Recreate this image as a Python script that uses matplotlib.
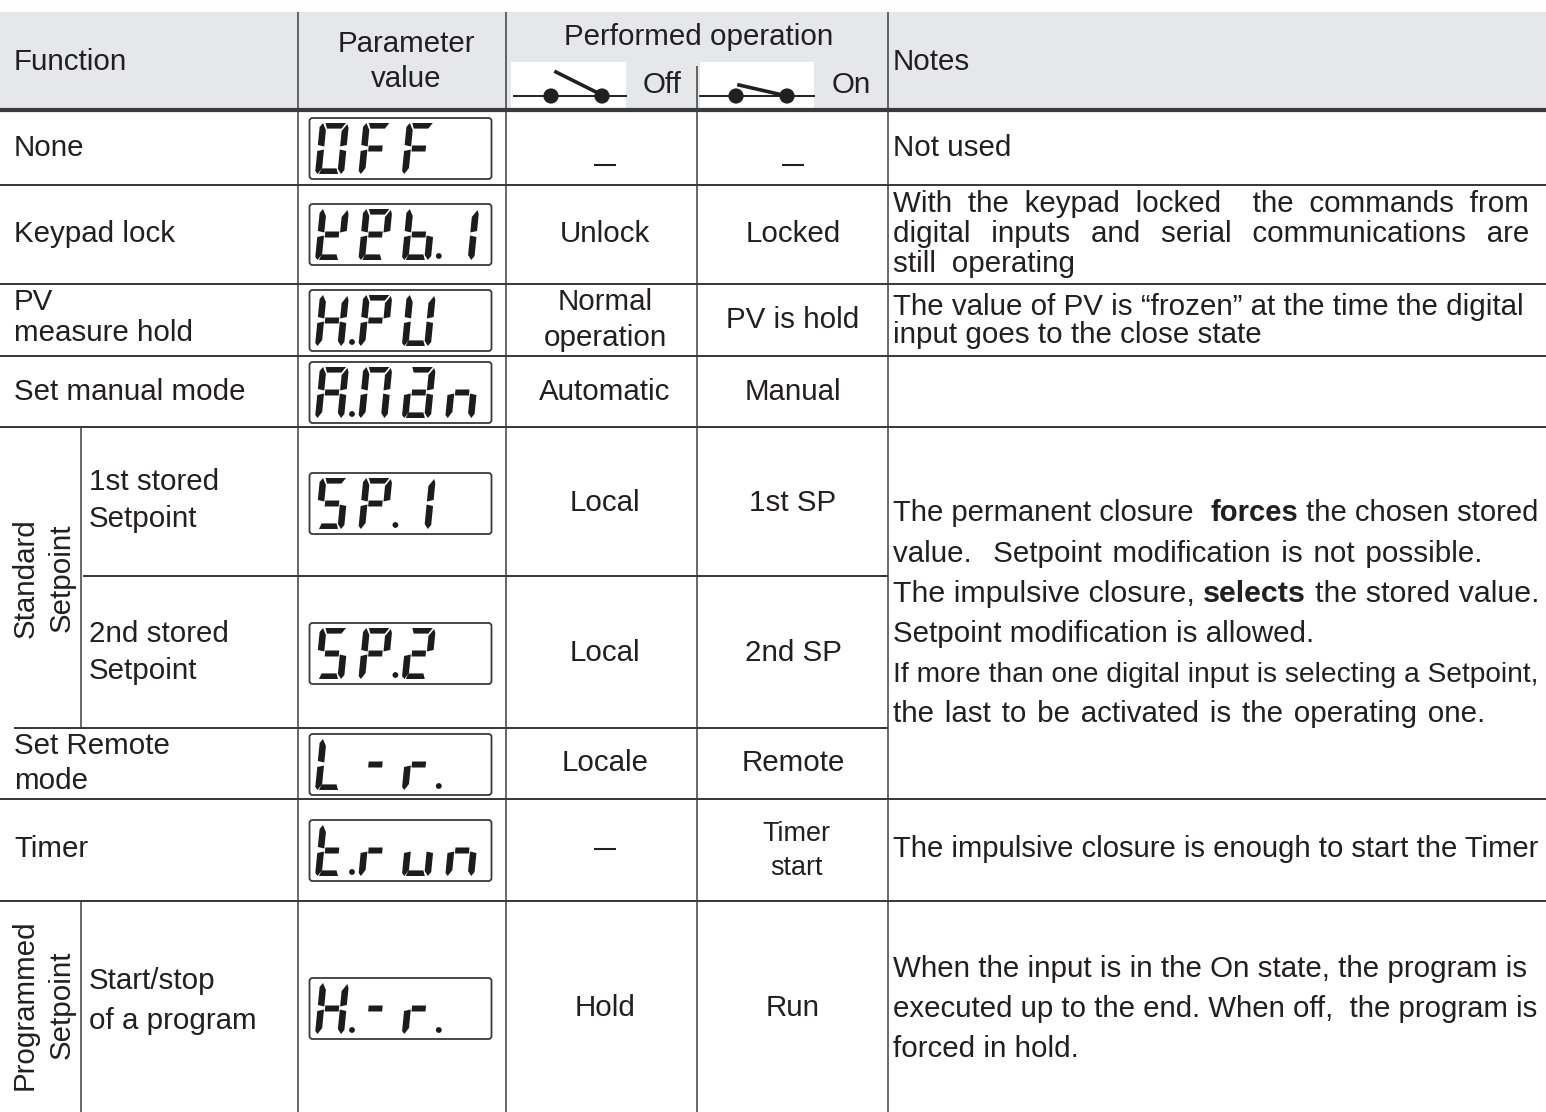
import matplotlib
matplotlib.use("Agg")
import matplotlib.pyplot as plt
from matplotlib.patches import Polygon, Rectangle, Circle, FancyBboxPatch
from matplotlib.font_manager import FontProperties, findfont, get_font
from matplotlib.textpath import TextPath

W, H = 1546, 1112
INK = "#231f20"
RULE = "#3a3a3c"
BAND = "#e6e7e8"
FONT = "Liberation Sans"
PX = 29.5

# ---- table contents ----
header_function = "Function"
header_param = ["Parameter", "value"]
header_op = "Performed operation"
header_off = "Off"
header_on = "On"
header_notes = "Notes"

functions = [("None", 146), ("Keypad lock", 232), ("PV", 300), ("measure hold", 331),
             ("Set manual mode", 390), ("Set Remote", 744), ("mode", 779), ("Timer", 847)]
sub_functions = [("1st stored", 480), ("Setpoint", 517), ("2nd stored", 632), ("Setpoint", 669),
                 ("Start/stop", 979), ("of a program", 1019)]
rotated = [("Standard", 26, 578), ("Setpoint", 62, 578), ("Programmed", 25, 1005), ("Setpoint", 62, 1005)]

off_col = [("Unlock", 232), ("Normal", 300), ("operation", 336), ("Automatic", 390), ("Local", 501),
           ("Local", 651), ("Locale", 761), ("Hold", 1006)]
on_col = [("Locked", 232), ("PV is hold", 318), ("Manual", 390), ("1st SP", 501), ("2nd SP", 651),
          ("Remote", 761), ("Run", 1006)]
dashes = [(605, 165), (793, 165), (605, 849)]
timer_start = [("Timer", 831), ("start", 865)]

notes_plain = [("Not used", 146, None), ("With the keypad locked  the commands from", 202, 1539),
               ("digital inputs and serial communications are", 232, 1539), ("still operating", 262, 1075),
               ("The value of PV is “frozen” at the time the digital", 305, 1539),
               ("input goes to the close state", 333, 1270),
               ("value.  Setpoint modification is not possible.", 552, 1491),
               ("Setpoint modification is allowed.", 632, 1320),
               ("If more than one digital input is selecting a Setpoint,", 672, 1539),
               ("the last to be activated is the operating one.", 712, 1489),
               ("The impulsive closure is enough to start the Timer", 847, 1539),
               ("When the input is in the On state, the program is", 967, 1539),
               ("executed up to the end. When off,  the program is", 1007, 1539),
               ("forced in hold.", 1047, None)]
notes_bold = [([("The permanent closure  ", False), ("forces", True), (" the chosen stored", False)], 511, 1539),
              ([("The impulsive closure, ", False), ("selects", True), (" the stored value.", False)], 592, 1539)]

# display rows: top of box, list of (segments, decimal point) for four digits
displays = [
    (118, [("abcdef", 0), ("aefg", 0), ("aefg", 0), ("", 0)]),
    (204, [("bdefg", 0), ("abdefg", 0), ("cdefg", 1), ("bc", 0)]),
    (290, [("bcefg", 1), ("abefg", 0), ("bcdef", 0), ("", 0)]),
    (362, [("abcefg", 1), ("abcef", 0), ("abcdeg", 0), ("ceg", 0)]),
    (473, [("acdfg", 0), ("abefg", 1), ("bc", 0), ("", 0)]),
    (623, [("acdfg", 0), ("abefg", 1), ("abdeg", 0), ("", 0)]),
    (734, [("def", 0), ("g", 0), ("eg", 1), ("", 0)]),
    (820, [("defg", 1), ("eg", 0), ("cde", 0), ("ceg", 0)]),
    (978, [("bcefg", 1), ("g", 0), ("eg", 1), ("", 0)]),
]

# ---- rules: (y, x0, x1, width px) ----
h_rules = [(110, 0, W, 4.2), (185, 0, W, 2), (284, 0, W, 2), (356, 0, W, 2), (426.5, 0, W, 2),
           (575.5, 83, 888, 2), (727.5, 14, 888, 2), (799, 0, W, 2), (900.5, 0, W, 2)]
v_rules = [(298, 12, H), (505.5, 12, H), (696.5, 66, H), (888, 12, H), (81, 427, 727), (81, 901, H)]

fig = plt.figure(figsize=(W / 100, H / 100), dpi=100)
ax = fig.add_axes([0, 0, 1, 1])
ax.set_xlim(0, W)
ax.set_ylim(H, 0)
ax.axis("off")
renderer = fig.canvas.get_renderer()


def fp(bold=False, px=PX):
    return FontProperties(family=FONT, weight="bold" if bold else "normal", size=px * 0.72)


def width(s, bold=False, px=PX):
    a = TextPath((0, 0), "|" + s + "|", prop=fp(bold, 100)).get_extents().width
    b = TextPath((0, 0), "||", prop=fp(bold, 100)).get_extents().width
    return (a - b) * px / 72.0


def drawn_width(s, px=PX):
    t = ax.text(0, 0, s, fontproperties=fp(False, px))
    w = t.get_window_extent(renderer).width
    t.remove()
    return w


def put(x, y, s, ha="left", bold=False, px=PX, **kw):
    ax.text(x, y + 10.3, s, ha=ha, va="baseline", fontproperties=fp(bold, px), color=INK, **kw)


HAIR = "\u200a"
has_hair = get_font(findfont(fp())).get_char_index(0x200A) != 0


def put_fitted(x0, x1, y, s):
    """One line ending at x1: shrink if too long, widen the word gaps if too short."""
    target = x1 - x0
    nat = drawn_width(s)
    if nat >= target or not has_hair:
        put(x0, y, s, px=PX * min(target / nat, 1.0))
        return
    best = s
    for n in range(1, 12):
        cand = s.replace(" ", " " + HAIR * n)
        if drawn_width(cand) > target:
            break
        best = cand
    put(x0, y, best, px=PX)


ax.add_patch(Rectangle((0, 12), W, 97, fc=BAND, ec="none"))
for (bx0, bx1) in [(511, 626), (700, 814)]:
    ax.add_patch(Rectangle((bx0, 62), bx1 - bx0, 46, fc="white", ec="none"))

for y, x0, x1, lw in h_rules:
    ax.plot([x0, x1], [y, y], color=RULE, lw=lw * 0.72, solid_capstyle="butt")
for x, y0, y1 in v_rules:
    ax.plot([x, x], [y0, y1], color=RULE, lw=1.5 * 0.72, solid_capstyle="butt")

# switch symbols
for (lx0, lx1, c0, c1, lever) in [(514, 626, 551, 602, ((556, 72), (602, 95))),
                                  (700, 814, 736, 787, ((739, 85), (787, 96)))]:
    ax.plot([lx0, lx1], [96, 96], color=INK, lw=1.4)
    for c in (c0, c1):
        ax.add_patch(Circle((c, 96), 7.6, fc=INK, ec="none", zorder=3))
    ax.plot([lever[0][0], lever[1][0]], [lever[0][1], lever[1][1]], color=INK, lw=2.6, zorder=3)

# headers
put(14, 60, header_function)
put(406, 42, header_param[0], ha="center")
put(406, 77, header_param[1], ha="center")
put(699, 35, header_op, ha="center")
put(662, 83, header_off, ha="center")
put(851, 83, header_on, ha="center")
put(893, 60, header_notes)

for s, y in functions:
    put(14, y, s)
for s, y in sub_functions:
    put(89, y, s)
for s, x, y in rotated:
    ax.text(x, y, s, rotation=90, ha="center", va="center", fontproperties=fp(), color=INK)
for s, y in off_col:
    put(605, y, s, ha="center")
for s, y in on_col:
    put(793, y, s, ha="center")
for x, y in dashes:
    ax.plot([x - 11, x + 11], [y, y], color=INK, lw=1.5, solid_capstyle="butt")
for s, y in timer_start:
    put(796, y, s, ha="center", px=27)

for s, y, x1 in notes_plain:
    if x1 is None:
        put(893, y, s)
    else:
        put_fitted(893, x1, y, s)
for segs, y, x1 in notes_bold:
    total = sum(width(s, b) for s, b in segs)
    px = PX * (x1 - 893) / total
    x = 893
    for s, b in segs:
        t = s.strip()
        lead = width(s[:len(s) - len(s.lstrip())], b, px) if s != s.lstrip() else 0
        put(x + lead, y, t, bold=b, px=px)
        x += width(s, b, px)

# seven-segment readouts
DW, DH, SL, T = 29.0, 51.0, 5.0, 6.6
PITCH = 43.4
SEG = {
    "a": [(5.5, DH), (DW - 3, DH), (DW - 7, DH - 5.6), (7.5, DH - 5.6)],
    "b": [(DW - 1.5, DH - 1), (DW, DH - 5), (DW, 29), (DW - T, 27.5), (DW - T, DH - 8)],
    "c": [(DW, 23), (DW, 4), (DW - 3, 0), (DW - T, 5), (DW - T, 24.5)],
    "d": [(6, 5.6), (DW - 8, 5.6), (DW - 6, 0), (4, 0)],
    "e": [(0, 23), (T, 24.5), (T, 6), (2.5, 0), (0, 3)],
    "f": [(0, 29), (T, 27.5), (T, DH - 7), (3, DH), (0, DH - 4)],
    "g": [(7.5, 22.5), (DW - 7.5, 22.5), (DW - 7.5, 28.5), (7.5, 28.5)],
}
for top, digits in displays:
    ax.add_patch(FancyBboxPatch((311, top + 1.5), 179, 58, boxstyle="round,pad=1.5,rounding_size=3",
                                fc="none", ec=RULE, lw=1.3))
    base = top + 56
    for i, (segs, dp) in enumerate(digits):
        x0 = 315 + i * PITCH
        for name in segs:
            pts = [(x0 + px_ + SL * py / DH, base - py) for px_, py in SEG[name]]
            ax.add_patch(Polygon(pts, closed=True, fc="#1c1c1e", ec="none"))
        if dp:
            ax.add_patch(Circle((x0 + 37, base - 4), 2.9, fc="#1c1c1e", ec="none"))

fig.savefig("out.png", dpi=100, facecolor="white")
